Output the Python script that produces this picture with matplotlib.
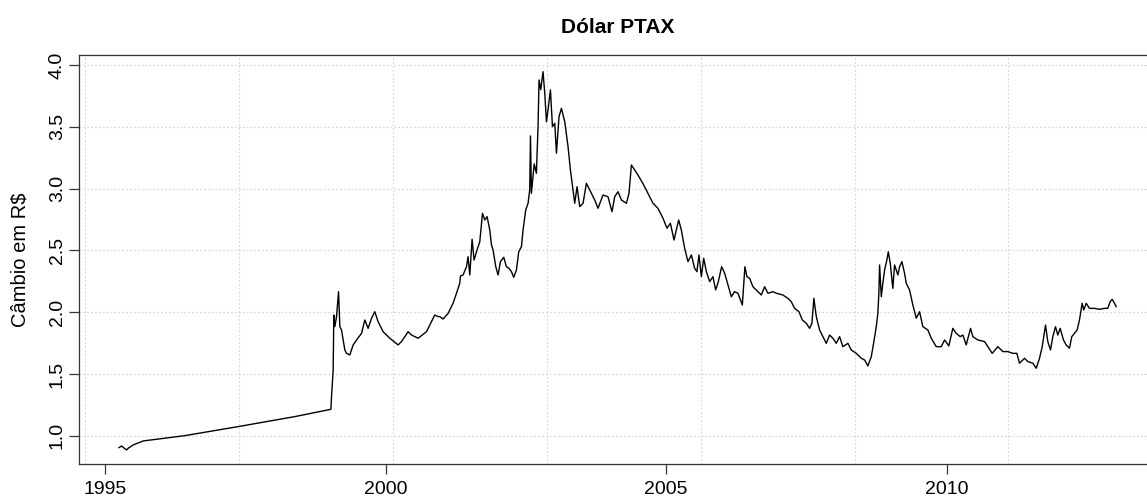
import numpy as np
import matplotlib
matplotlib.use("Agg")
import matplotlib.pyplot as plt

plt.rcParams['font.family'] = ['Liberation Sans', 'DejaVu Sans']

# PTAX exchange rate (R$ per US$), decimal year vs. rate
years = [
    1995.249, 1995.297, 1995.344, 1995.387, 1995.415, 1995.504, 1995.682,
    1996.425, 1997.374, 1998.384, 1999.026,
    1999.038, 1999.067, 1999.079, 1999.097, 1999.127, 1999.163, 1999.186,
    1999.216, 1999.245, 1999.275, 1999.305, 1999.364, 1999.423, 1999.484,
    1999.573, 1999.631, 1999.690, 1999.751, 1999.809, 1999.868, 1999.957,
    2000.077, 2000.224, 2000.285, 2000.403, 2000.463, 2000.581, 2000.730,
    2000.878, 2000.937, 2000.967, 2001.026, 2001.115, 2001.204, 2001.265,
    2001.323, 2001.336, 2001.382, 2001.443, 2001.471, 2001.502, 2001.543,
    2001.578, 2001.621, 2001.680, 2001.728, 2001.769, 2001.810, 2001.858,
    2001.888, 2001.917, 2001.965, 2002.006, 2002.048, 2002.107, 2002.155,
    2002.202, 2002.244, 2002.285, 2002.333, 2002.374, 2002.422, 2002.451,
    2002.499, 2002.540, 2002.570, 2002.583, 2002.600, 2002.629, 2002.650,
    2002.689, 2002.718, 2002.736, 2002.766, 2002.807, 2002.838, 2002.868,
    2002.896, 2002.939, 2002.975, 2003.016, 2003.046, 2003.092, 2003.135,
    2003.194, 2003.253, 2003.295, 2003.342, 2003.372, 2003.413, 2003.461,
    2003.520, 2003.580, 2003.669, 2003.728, 2003.787, 2003.876, 2003.965,
    2004.036, 2004.084, 2004.143, 2004.204, 2004.293, 2004.339, 2004.382,
    2004.441, 2004.499, 2004.589, 2004.678, 2004.767, 2004.856, 2004.945,
    2005.016, 2005.077, 2005.141, 2005.224, 2005.272, 2005.331, 2005.390,
    2005.451, 2005.509, 2005.550, 2005.586, 2005.629, 2005.670, 2005.718,
    2005.777, 2005.835, 2005.883, 2005.931, 2005.990, 2006.044, 2006.103,
    2006.163, 2006.222, 2006.281, 2006.359, 2006.405, 2006.441, 2006.489,
    2006.548, 2006.637, 2006.697, 2006.756, 2006.815, 2006.904, 2006.964,
    2007.082, 2007.171, 2007.231, 2007.290, 2007.367, 2007.428, 2007.499,
    2007.558, 2007.599, 2007.634, 2007.677, 2007.736, 2007.795, 2007.855,
    2007.914, 2007.973, 2008.033, 2008.092, 2008.151, 2008.240, 2008.300,
    2008.389, 2008.479, 2008.538, 2008.596, 2008.657, 2008.698, 2008.746,
    2008.774, 2008.792, 2008.805, 2008.835, 2008.863, 2008.894, 2008.935,
    2008.960, 2008.995, 2009.041, 2009.072, 2009.131, 2009.161, 2009.202,
    2009.250, 2009.280, 2009.339, 2009.398, 2009.459, 2009.517, 2009.576,
    2009.665, 2009.726, 2009.815, 2009.904, 2009.963, 2010.039, 2010.110,
    2010.171, 2010.242, 2010.289, 2010.349, 2010.426, 2010.467, 2010.556,
    2010.675, 2010.734, 2010.812, 2010.912, 2011.001, 2011.090, 2011.179,
    2011.251, 2011.299, 2011.388, 2011.447, 2011.535, 2011.596, 2011.655,
    2011.703, 2011.762, 2011.803, 2011.851, 2011.892, 2011.940, 2011.981,
    2012.023, 2012.082, 2012.130, 2012.189, 2012.230, 2012.278, 2012.326,
    2012.367, 2012.415, 2012.444, 2012.487, 2012.545, 2012.634, 2012.723,
    2012.812, 2012.871, 2012.914, 2012.950, 2012.991, 2013.021,
]

rates = [
    0.904, 0.917, 0.899, 0.885, 0.899, 0.926, 0.958,
    1.001, 1.074, 1.155, 1.214,
    1.316, 1.532, 1.977, 1.883, 1.964, 2.166, 1.883,
    1.856, 1.775, 1.694, 1.667, 1.654, 1.735, 1.775,
    1.829, 1.937, 1.869, 1.951, 2.004, 1.923, 1.842,
    1.789, 1.735, 1.762, 1.842, 1.815, 1.789, 1.842,
    1.977, 1.964, 1.964, 1.945, 1.990, 2.072, 2.153,
    2.234, 2.293, 2.301, 2.368, 2.449, 2.301, 2.590,
    2.422, 2.489, 2.570, 2.800, 2.746, 2.773, 2.665,
    2.544, 2.503, 2.368, 2.301, 2.409, 2.444, 2.368,
    2.355, 2.328, 2.282, 2.341, 2.489, 2.530, 2.665,
    2.827, 2.881, 2.989, 3.426, 2.962, 3.096, 3.200,
    3.124, 3.500, 3.879, 3.800, 3.946, 3.771, 3.541,
    3.636, 3.798, 3.501, 3.528, 3.286, 3.582, 3.650,
    3.541, 3.339, 3.150, 2.989, 2.881, 3.015, 2.854,
    2.881, 3.043, 2.962, 2.908, 2.841, 2.948, 2.934,
    2.813, 2.934, 2.975, 2.908, 2.881, 2.962, 3.191,
    3.150, 3.110, 3.040, 2.960, 2.881, 2.840, 2.760,
    2.680, 2.720, 2.584, 2.746, 2.665, 2.517, 2.409,
    2.463, 2.355, 2.328, 2.463, 2.287, 2.436, 2.328,
    2.247, 2.287, 2.180, 2.247, 2.368, 2.315, 2.220,
    2.125, 2.166, 2.153, 2.058, 2.368, 2.287, 2.274,
    2.206, 2.166, 2.139, 2.206, 2.153, 2.166, 2.153,
    2.139, 2.112, 2.085, 2.031, 2.004, 1.937, 1.910,
    1.869, 1.910, 2.112, 1.964, 1.856, 1.802, 1.748,
    1.815, 1.789, 1.748, 1.802, 1.721, 1.748, 1.694,
    1.667, 1.627, 1.613, 1.565, 1.640, 1.748, 1.883,
    1.990, 2.153, 2.382, 2.125, 2.234, 2.341, 2.422,
    2.489, 2.396, 2.193, 2.382, 2.301, 2.368, 2.409,
    2.315, 2.234, 2.180, 2.058, 1.951, 2.004, 1.883,
    1.856, 1.789, 1.721, 1.721, 1.775, 1.727, 1.869,
    1.829, 1.802, 1.815, 1.735, 1.869, 1.802, 1.775,
    1.762, 1.721, 1.667, 1.721, 1.681, 1.681, 1.667,
    1.667, 1.587, 1.627, 1.600, 1.587, 1.546, 1.627,
    1.721, 1.896, 1.762, 1.694, 1.802, 1.883, 1.815,
    1.869, 1.775, 1.735, 1.708, 1.802, 1.829, 1.856,
    1.937, 2.072, 2.018, 2.072, 2.031, 2.031, 2.023,
    2.031, 2.031, 2.085, 2.104, 2.072, 2.045,
]

x_ticks = [1995, 2000, 2005, 2010]
y_ticks = [1.0, 1.5, 2.0, 2.5, 3.0, 3.5, 4.0]

fig = plt.figure(figsize=(11.47, 4.97), dpi=100)
ax = fig.add_axes([0.0689, 0.0658, 0.9389, 0.8235])

# background grid: dotted light grey
for gx in np.arange(1994.644, 2014.0, 2.743):
    ax.axvline(gx, color='#d3d3d3', lw=0.8, ls=(0, (1.5, 2.0)), zorder=0)
for gy in y_ticks:
    ax.axhline(gy, color='#d3d3d3', lw=0.8, ls=(0, (1.5, 2.0)), zorder=0)

ax.plot(years, rates, color='black', lw=1.0, zorder=2)

ax.set_xlim(1994.538, 2013.73)
ax.set_ylim(0.769, 4.081)
ax.set_xticks(x_ticks)
ax.set_xticklabels([str(t) for t in x_ticks])
ax.set_yticks(y_ticks)
ax.set_yticklabels([f"{t:.1f}" for t in y_ticks], rotation=90, va='center')

ax.tick_params(axis='both', labelsize=14, length=7, width=0.9,
               color='#333333', labelcolor='black')
ax.tick_params(axis='x', pad=5)
ax.tick_params(axis='y', pad=2.5)
for s in ax.spines.values():
    s.set_color('#333333')
    s.set_linewidth(0.9)

ax.set_title('Dólar PTAX', fontsize=15, fontweight='bold', pad=16)
ax.set_ylabel('Câmbio em R$', fontsize=14.5, labelpad=14)

fig.savefig('out.png', dpi=100)
